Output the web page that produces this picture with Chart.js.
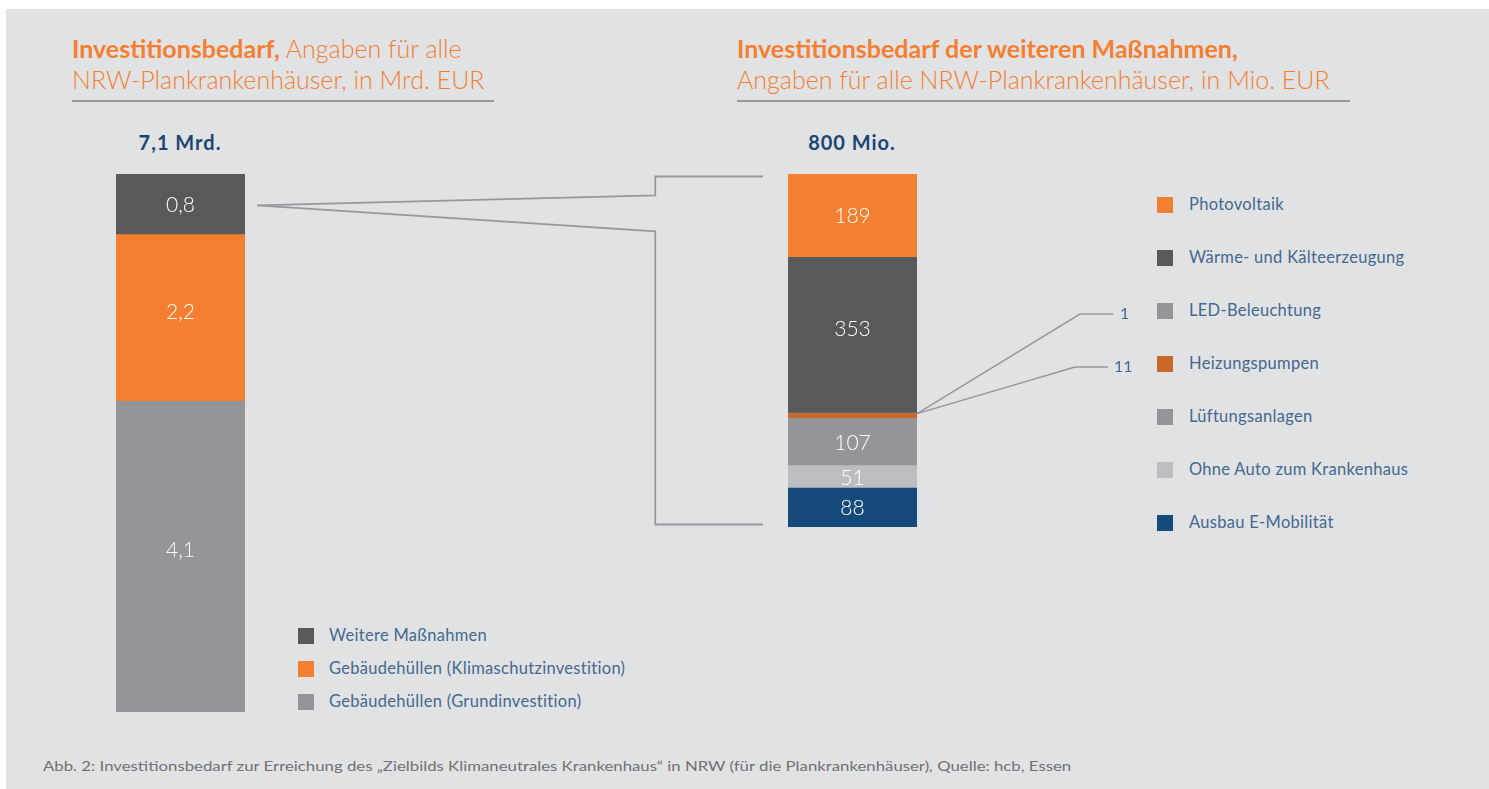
<!DOCTYPE html>
<html lang="de">
<head>
<meta charset="utf-8">
<title>Investitionsbedarf NRW-Plankrankenhäuser</title>
<script src="https://cdn.jsdelivr.net/npm/chart.js@4/dist/chart.umd.min.js"></script>
<style>
  html, body { margin: 0; padding: 0; background: #fff; }
  body { width: 1489px; height: 789px; position: relative; overflow: hidden; font-family: Lato, "Open Sans", sans-serif; }
  #panel { position: absolute; left: 6px; top: 9px; right: 0; bottom: 0; background: #e1e2e4; }
  .title { position: absolute; color: #f47f31; font-size: 25px; line-height: 31px; font-weight: 300; white-space: nowrap; }
  .title b { font-weight: 700; }
  .rule { position: absolute; height: 2px; background: #97989b; }
  .total { position: absolute; color: #1b4674; font-weight: 700; font-size: 20px; letter-spacing: 1px; text-align: center; width: 200px; }
  .legend { position: absolute; color: #44688f; font-size: 16.5px; letter-spacing: 0.3px; }
  .legend div { position: absolute; left: 0; white-space: nowrap; }
  .legend span.sw { position: absolute; left: 0; top: 2px; width: 16px; height: 16px; }
  .legend span.tx { position: absolute; top: -1px; }
  #note { position: absolute; left: 43px; top: 757px; color: #707174; font-size: 14px; white-space: nowrap; transform-origin: 0 0; }
  canvas { position: absolute; }
</style>
</head>
<body>
<div id="panel"></div>

<div class="title" style="left:72px; top:33px;"><b>Investitionsbedarf,</b> Angaben für alle<br>NRW-Plankrankenhäuser, in Mrd. EUR</div>
<div class="rule" style="left:72px; top:100px; width:422px;"></div>
<div class="title" style="left:737px; top:33px;"><b>Investitionsbedarf der weiteren Maßnahmen,</b><br>Angaben für alle NRW-Plankrankenhäuser, in Mio. EUR</div>
<div class="rule" style="left:737px; top:100px; width:613px;"></div>

<div class="total" id="totalLeft" style="left:80px; top:130px;"></div>
<div class="total" id="totalRight" style="left:752px; top:130px;"></div>

<div class="legend" id="legendLeft" style="left:298px; top:626px;"></div>
<div class="legend" id="legendRight" style="left:1157px; top:195px;"></div>

<div id="note">Abb. 2: Investitionsbedarf zur Erreichung des „Zielbilds Klimaneutrales Krankenhaus“ in NRW (für die Plankrankenhäuser), Quelle: hcb, Essen</div>

<canvas id="leftChart" style="left:116px; top:174px;" width="129" height="538"></canvas>
<canvas id="rightChart" style="left:240px; top:150px;" width="900" height="390"></canvas>

<script>
// Left bar: total investment, Mrd. EUR (bottom to top)
const leftLabels = ['Gebäudehüllen (Grundinvestition)', 'Gebäudehüllen (Klimaschutzinvestition)', 'Weitere Maßnahmen'];
const leftValues = [4.1, 2.2, 0.8];
const leftColors = ['#939598', '#f47f31', '#58595b'];

// Right bar: weitere Maßnahmen, Mio. EUR (bottom to top)
const rightLabels = ['Ausbau E-Mobilität', 'Ohne Auto zum Krankenhaus', 'Lüftungsanlagen', 'Heizungspumpen', 'LED-Beleuchtung', 'Wärme- und Kälteerzeugung', 'Photovoltaik'];
const rightValues = [88, 51, 107, 11, 1, 353, 189];
const rightColors = ['#164a7c', '#bcbdc0', '#939598', '#c8682a', '#939598', '#58595b', '#f47f31'];
const rightTotal = 800;

const smallLimit = 20; // segments thinner than this get a callout instead of an inside label

const fmt = v => String(v).replace('.', ',');

// totals above the bars
document.getElementById('totalLeft').textContent = fmt(Math.round(leftValues.reduce((a, b) => a + b, 0) * 10) / 10) + ' Mrd.';
document.getElementById('totalRight').textContent = rightTotal + ' Mio.';

// legends, top of the stack first
function buildLegend(id, labels, colors, step, textX) {
  const box = document.getElementById(id);
  for (let i = labels.length - 1, row = 0; i >= 0; i--, row++) {
    const d = document.createElement('div');
    d.style.top = (row * step) + 'px';
    d.innerHTML = '<span class="sw" style="background:' + colors[i] + '"></span><span class="tx" style="left:' + textX + 'px">' + labels[i] + '</span>';
    box.appendChild(d);
  }
}
buildLegend('legendLeft', leftLabels, leftColors, 33, 31);
buildLegend('legendRight', rightLabels, rightColors, 53, 32);

// white value labels inside the segments
const insideLabels = {
  id: 'insideLabels',
  afterDatasetsDraw(chart) {
    const ctx = chart.ctx;
    ctx.save();
    ctx.fillStyle = '#ffffff';
    ctx.font = '300 21px Lato, "Open Sans", sans-serif';
    ctx.textAlign = 'center';
    ctx.textBaseline = 'middle';
    chart.data.datasets.forEach((ds, i) => {
      const bar = chart.getDatasetMeta(i).data[0];
      const h = Math.abs(bar.base - bar.y);
      if (h < smallLimit) return;
      // tall segments carry their label a little above the middle
      const lift = h > 150 ? 7 : 0;
      ctx.fillText(fmt(ds.data[0]), bar.x, (bar.y + bar.base) / 2 + 1 - lift);
    });
    ctx.restore();
  }
};

function makeDatasets(labels, values, colors) {
  return labels.map((l, i) => ({
    label: l,
    data: [values[i]],
    backgroundColor: colors[i],
    borderWidth: 0,
    barPercentage: 1,
    categoryPercentage: 1
  }));
}

function baseOptions(max, padding) {
  return {
    responsive: false,
    animation: false,
    layout: { padding: padding },
    plugins: { legend: { display: false }, tooltip: { enabled: false } },
    scales: {
      x: { stacked: true, display: false },
      y: { stacked: true, display: false, min: 0, max: max }
    }
  };
}

const leftChart = new Chart(document.getElementById('leftChart'), {
  type: 'bar',
  data: { labels: [''], datasets: makeDatasets(leftLabels, leftValues, leftColors) },
  options: baseOptions(7.1, 0),
  plugins: [insideLabels]
});

// connectors: zoom lines from the left bar and callouts for the tiny segments
const connectors = {
  id: 'connectors',
  afterDatasetsDraw(chart) {
    const ctx = chart.ctx;
    const area = chart.chartArea;
    const lc = leftChart.canvas, rc = chart.canvas;
    const dx = lc.offsetLeft - rc.offsetLeft, dy = lc.offsetTop - rc.offsetTop;
    const lastMeta = leftChart.getDatasetMeta(leftValues.length - 1).data[0];
    const sx = lastMeta.x + lastMeta.width / 2 + dx + 12;
    const sy = (lastMeta.y + lastMeta.base) / 2 + dy + 1;
    const midX = sx + (area.left - sx) * 0.75;
    const endX = area.left - 25;
    const topY = area.top + 2.5, botY = area.bottom - 2.5;

    ctx.save();
    ctx.strokeStyle = '#97989b';
    ctx.lineWidth = 1.8;
    ctx.lineJoin = 'miter';
    ctx.beginPath();
    ctx.moveTo(sx, sy);
    ctx.lineTo(midX, sy - 10);
    ctx.lineTo(midX, topY);
    ctx.lineTo(endX, topY);
    ctx.moveTo(sx, sy);
    ctx.lineTo(midX, sy + 26);
    ctx.lineTo(midX, botY);
    ctx.lineTo(endX, botY);
    ctx.stroke();

    // callouts to the small segments, level with their legend rows
    ctx.font = '16px Lato, "Open Sans", sans-serif';
    ctx.fillStyle = '#44688f';
    ctx.textBaseline = 'middle';
    ctx.textAlign = 'left';
    const legendTop = 205 - rc.offsetTop; // first legend row centre, canvas coords
    ctx.lineWidth = 1.5;
    chart.data.datasets.forEach((ds, i) => {
      const bar = chart.getDatasetMeta(i).data[0];
      if (Math.abs(bar.base - bar.y) >= smallLimit) return;
      const row = rightValues.length - 1 - i;
      const ly = legendTop + row * 53 + 3;
      const ax = bar.x + bar.width / 2;
      const ay = chart.scales.y.getPixelForValue(rightValues.slice(0, 4).reduce((a, b) => a + b, 0));
      const kneeX = ax + (i === 4 ? 163 : 158);
      const tx = kneeX + 33;
      ctx.beginPath();
      ctx.moveTo(ax, ay);
      ctx.lineTo(kneeX, ly);
      ctx.lineTo(tx, ly);
      ctx.stroke();
      ctx.fillText(String(ds.data[0]), tx + (i === 4 ? 7 : 6), ly);
    });
    ctx.restore();
  }
};

const rightChart = new Chart(document.getElementById('rightChart'), {
  type: 'bar',
  data: { labels: [''], datasets: makeDatasets(rightLabels, rightValues, rightColors) },
  options: baseOptions(rightTotal, { left: 548, right: 223, top: 24, bottom: 13 }),
  plugins: [insideLabels, connectors]
});

// footnote is set in a condensed face in the original
const note = document.getElementById('note');
note.style.transform = 'scaleX(' + (1028 / note.offsetWidth) + ')';
</script>
</body>
</html>
